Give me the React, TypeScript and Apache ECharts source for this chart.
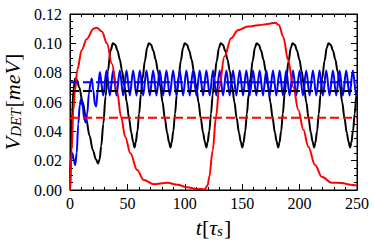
import React, { useEffect, useRef } from "react";
import * as echarts from "echarts";

const xTicks = [0, 50, 100, 150, 200, 250];
const yTicks = [0, 0.02, 0.04, 0.06, 0.08, 0.1, 0.12];

const blackCurve: [number, number][] = [
  [0, 0], [0.8, 0.025], [1.8, 0.05], [3, 0.068], [4.4, 0.076], [6, 0.075], [8, 0.07], [11, 0.06],
  [14, 0.049], [17, 0.037], [20, 0.027], [22.5, 0.021], [24.5, 0.018], [25.8, 0.021], [27.2, 0.03],
  [29, 0.045], [31, 0.064], [33, 0.081], [35.3, 0.095], [37.4, 0.1],
  [39.4, 0.099], [41.4, 0.095], [43.4, 0.089], [45.4, 0.081], [47.4, 0.071], [49.4, 0.06], [51.4, 0.049],
  [53.4, 0.039], [54.9, 0.033], [56.2, 0.029],
  [57.2, 0.032], [58.7, 0.04], [60.2, 0.052], [61.7, 0.065], [63.2, 0.076], [65.2, 0.088], [67.2, 0.097], [68.6, 0.1],
  [70.6, 0.099], [72.6, 0.095], [74.6, 0.089], [76.6, 0.081], [78.6, 0.071], [80.6, 0.06], [82.6, 0.049],
  [84.6, 0.039], [86.1, 0.033], [87.5, 0.029],
  [88.5, 0.032], [90, 0.04], [91.5, 0.052], [93, 0.065], [94.5, 0.076], [96.5, 0.088], [98.5, 0.097], [99.9, 0.1],
  [101.9, 0.099], [103.9, 0.095], [105.9, 0.089], [107.9, 0.081], [109.9, 0.071], [111.9, 0.06], [113.9, 0.049],
  [115.9, 0.039], [117.4, 0.033], [118.8, 0.029],
  [119.8, 0.032], [121.3, 0.04], [122.8, 0.052], [124.3, 0.065], [125.8, 0.076], [127.8, 0.088], [129.8, 0.097], [131.2, 0.1],
  [133.2, 0.099], [135.2, 0.095], [137.2, 0.089], [139.2, 0.081], [141.2, 0.071], [143.2, 0.06], [145.2, 0.049],
  [147.2, 0.039], [148.7, 0.033], [150.1, 0.029],
  [151.1, 0.032], [152.6, 0.04], [154.1, 0.052], [155.6, 0.065], [157.1, 0.076], [159.1, 0.088], [161.1, 0.097], [162.5, 0.1],
  [164.5, 0.099], [166.5, 0.095], [168.5, 0.089], [170.5, 0.081], [172.5, 0.071], [174.5, 0.06], [176.5, 0.049],
  [178.5, 0.039], [180, 0.033], [181.4, 0.029],
  [182.4, 0.032], [183.9, 0.04], [185.4, 0.052], [186.9, 0.065], [188.4, 0.076], [190.4, 0.088], [192.4, 0.097], [193.8, 0.1],
  [195.8, 0.099], [197.8, 0.095], [199.8, 0.089], [201.8, 0.081], [203.8, 0.071], [205.8, 0.06], [207.8, 0.049],
  [209.8, 0.039], [211.3, 0.033], [212.7, 0.029],
  [213.7, 0.032], [215.2, 0.04], [216.7, 0.052], [218.2, 0.065], [219.7, 0.076], [221.7, 0.088], [223.7, 0.097], [225.1, 0.1],
  [227.1, 0.099], [229.1, 0.095], [231.1, 0.089], [233.1, 0.081], [235.1, 0.071], [237.1, 0.06], [239.1, 0.049],
  [241.1, 0.039], [242.6, 0.033], [244, 0.029],
  [245, 0.032], [246.5, 0.04], [248, 0.052], [249.5, 0.065], [250, 0.068],
];

const blueCurve: [number, number][] = [
  [0, 0], [0.8, 0.02], [2.2, 0.025], [3.2, 0.021], [4.5, 0.017], [5.8, 0.025], [7.2, 0.045], [8.5, 0.058],
  [9.6, 0.062], [11, 0.057], [12.5, 0.048], [13.7, 0.046], [15, 0.052], [16.5, 0.066], [18, 0.074],
  [19, 0.076], [20.3, 0.068], [21.8, 0.058], [22.8, 0.057], [24.2, 0.068], [26, 0.0805],
  [28.9, 0.0645], [31.8, 0.0815], [34.7, 0.0645], [37.6, 0.0815], [40.5, 0.0645], [43.4, 0.0815],
  [46.3, 0.0645], [49.2, 0.0815], [52.1, 0.0645], [55.0, 0.0815], [57.9, 0.0645], [60.8, 0.0815],
  [63.7, 0.0645], [66.6, 0.0815], [69.5, 0.0645], [72.4, 0.0815], [75.3, 0.0645], [78.2, 0.0815],
  [81.1, 0.0645], [84.0, 0.0815], [86.9, 0.0645], [89.8, 0.0815], [92.7, 0.0645], [95.6, 0.0815],
  [98.5, 0.0645], [101.4, 0.0815], [104.3, 0.0645], [107.2, 0.0815], [110.1, 0.0645], [113.0, 0.0815],
  [115.9, 0.0645], [118.8, 0.0815], [121.7, 0.0645], [124.6, 0.0815], [127.5, 0.0645], [130.4, 0.0815],
  [133.3, 0.0645], [136.2, 0.0815], [139.1, 0.0645], [142.0, 0.0815], [144.9, 0.0645], [147.8, 0.0815],
  [150.7, 0.0645], [153.6, 0.0815], [156.5, 0.0645], [159.4, 0.0815], [162.3, 0.0645], [165.2, 0.0815],
  [168.1, 0.0645], [171.0, 0.0815], [173.9, 0.0645], [176.8, 0.0815], [179.7, 0.0645], [182.6, 0.0815],
  [185.5, 0.0645], [188.4, 0.0815], [191.3, 0.0645], [194.2, 0.0815], [197.1, 0.0645], [200.0, 0.0815],
  [202.9, 0.0645], [205.8, 0.0815], [208.7, 0.0645], [211.6, 0.0815], [214.5, 0.0645], [217.4, 0.0815],
  [220.3, 0.0645], [223.2, 0.0815], [226.1, 0.0645], [229.0, 0.0815], [231.9, 0.0645], [234.8, 0.0815],
  [237.7, 0.0645], [240.6, 0.0815], [243.5, 0.0645], [246.4, 0.0815], [249.3, 0.0645], [250, 0.066],
];

const redCurve: [number, number][] = [
  [0, 0], [1.5, 0.027], [2.9, 0.0545], [4.4, 0.068], [6.4, 0.082], [10.2, 0.0955], [14.6, 0.103],
  [20.5, 0.11], [23.4, 0.1107], [27.8, 0.108], [32.2, 0.1], [36.5, 0.086], [40.9, 0.068], [44.4, 0.05],
  [48.2, 0.036], [52.6, 0.025], [58.5, 0.0136], [64.3, 0.0068], [73, 0.004], [84.8, 0.005], [93.6, 0.0036],
  [102, 0.0018], [111, 0.0007], [117.5, 0.0005], [120, 0.0034], [121.3, 0.009], [124.3, 0.027],
  [127.2, 0.05], [130, 0.07], [134.5, 0.091], [140.4, 0.1034], [146.2, 0.109], [155, 0.1114],
  [163.7, 0.1123], [172.5, 0.1132], [178.4, 0.1141], [182, 0.1125], [185.7, 0.1045], [190, 0.0886],
  [194.5, 0.07], [198.9, 0.0545], [203.3, 0.041], [207.6, 0.0295], [213.5, 0.017], [219.3, 0.009],
  [228, 0.005], [237, 0.0048], [244.3, 0.0036], [250, 0.003],
];

const blackMean = 0.0675;
const blueMean = 0.0734;
const redMean = 0.0493;

const FONT = "Liberation Serif";

const titleRich = {
  i: { fontFamily: FONT, fontStyle: "italic", fontSize: 22, lineHeight: 23, verticalAlign: "top", color: "#000" },
  n: { fontFamily: FONT, fontStyle: "normal", fontSize: 22, lineHeight: 23, verticalAlign: "top", color: "#000" },
  s: { fontFamily: FONT, fontStyle: "italic", fontSize: 15, lineHeight: 16, padding: [7, 1, 0, 0], verticalAlign: "top", color: "#000" },
};

function axisBase(showLabel: boolean) {
  return {
    axisLine: { show: true, onZero: false, lineStyle: { color: "#000", width: 1 } },
    axisTick: { show: true, inside: true, length: 6, lineStyle: { color: "#000", width: 1 } },
    splitLine: { show: false },
    minorSplitLine: { show: false },
    axisLabel: { show: showLabel, color: "#000", fontFamily: FONT, fontSize: 16 },
  };
}

function meanLine(v: number): [number, number][] {
  return [[xTicks[0], v], [xTicks[xTicks.length - 1], v]];
}

export default function App() {
  const ref = useRef<HTMLDivElement>(null);
  useEffect(() => {
    document.body.style.margin = "0";
    const chart = echarts.init(ref.current!, null, { renderer: "svg" });
    const xBase = (pos: string, show: boolean) => {
      const b: any = axisBase(show);
      return {
        type: "value",
        position: pos,
        min: xTicks[0],
        max: xTicks[xTicks.length - 1],
        interval: 50,
        ...b,
        minorTick: { show: true, splitNumber: 5, length: 3, lineStyle: { color: "#000", width: 1 } },
        axisLabel: { ...b.axisLabel, margin: 5 },
      };
    };
    const yBase = (pos: string, show: boolean) => {
      const b: any = axisBase(show);
      return {
        type: "value",
        position: pos,
        min: yTicks[0],
        max: yTicks[yTicks.length - 1],
        interval: 0.02,
        ...b,
        minorTick: { show: true, splitNumber: 4, length: 3, lineStyle: { color: "#000", width: 1 } },
        axisLabel: { ...b.axisLabel, margin: 8, formatter: (v: number) => v.toFixed(2) },
      };
    };
    const solid = (data: [number, number][], color: string) => ({
      type: "line",
      data,
      showSymbol: false,
      symbol: "none",
      smooth: 0.35,
      smoothMonotone: "x",
      lineStyle: { color, width: 2 },
      z: 2,
    });
    const dashed = (v: number, color: string) => ({
      type: "line",
      data: meanLine(v),
      showSymbol: false,
      symbol: "none",
      lineStyle: { color, width: 2, type: [9, 4] },
      z: 3,
    });
    chart.setOption({
      animation: false,
      grid: {
        left: 70, right: 17, top: 14, bottom: 54, show: true, borderColor: "#000", borderWidth: 1,
        containLabel: false, outerBoundsMode: "none",
      },
      xAxis: [
        {
          ...xBase("bottom", true),
          name: "{i|t}{n|[}{i|τ}{s|s}{n|]}",
          nameLocation: "middle",
          nameGap: 26,
          nameTextStyle: { fontFamily: FONT, rich: titleRich },
        },
        xBase("top", false),
      ],
      yAxis: [
        {
          ...yBase("left", true),
          name: "{i|V}{s|DET}{n|[}{i|meV}{n|]}",
          nameLocation: "middle",
          nameRotate: 90,
          nameGap: 39,
          nameTextStyle: { fontFamily: FONT, rich: titleRich },
        },
        yBase("right", false),
      ],
      series: [
        solid(blackCurve, "#000000"),
        solid(blueCurve, "#0000ff"),
        solid(redCurve, "#ff0000"),
        dashed(blackMean, "#000000"),
        dashed(redMean, "#ff0000"),
        dashed(blueMean, "#0000ff"),
      ],
    });
    return () => chart.dispose();
  }, []);
  return <div ref={ref} style={{ width: 374, height: 244 }} />;
}
